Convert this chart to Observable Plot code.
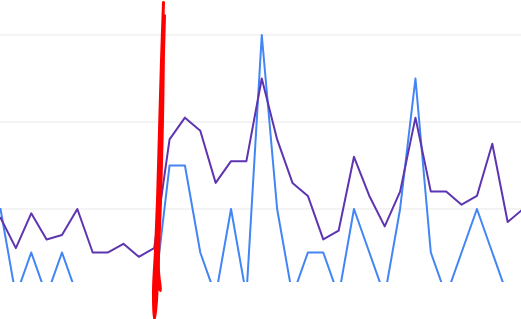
<!DOCTYPE html>
<html>
<head>
<meta charset="utf-8">
<script src="https://cdn.jsdelivr.net/npm/d3@7"></script>
<script src="https://cdn.jsdelivr.net/npm/@observablehq/plot@0.6"></script>
<style>
  html, body { margin: 0; padding: 0; background: #fff; }
  #chart svg { display: block; }
</style>
</head>
<body>
<div id="chart"></div>
<script>
// Data (x = period index)
const blueValues = [2,0,1,0,1,0,0,0,0,0,0,3,3,1,0,2,0,6,2,0,1,1,0,2,1,0,2,5,1,0,1,2,1,0,0];
const purpleValues = [1.8,1.1,1.9,1.3,1.4,2.0,1.0,1.0,1.2,0.9,1.1,3.6,4.1,3.8,2.6,3.1,3.1,5.0,3.6,2.6,2.3,1.3,1.5,3.2,2.3,1.6,2.4,4.1,2.4,2.4,2.1,2.3,3.5,1.7,2.0];
const gridValues = [2, 4, 6];
// Freehand red annotation stroke, in data units
const scribbleX = [10.606,10.476,10.345,10.215,10.085,9.955,10.020,
                   10.150,10.280,10.410,10.541,10.671,
                   10.606,10.476,10.345,10.215,10.345,10.410,
                   10.280,10.410,10.541,10.606,
                   10.541,10.280,10.085,10.150];
const scribbleY = [6.747,5.414,3.805,2.195,1.046,0.126,-0.540,
                   -0.103,1.276,2.885,4.724,6.448,
                   5.874,4.034,2.195,0.816,0.172,0.126,
                   0.586,2.195,4.034,5.644,
                   4.264,1.506,0.241,-0.103];

const blue = blueValues.map((v, i) => ({i, v}));
const purple = purpleValues.map((v, i) => ({i, v}));
const scribble = scribbleX.map((x, k) => ({x, y: scribbleY[k]}));

const chart = Plot.plot({
  width: 521,
  height: 319,
  marginTop: 0,
  marginLeft: 0,
  marginRight: 0,
  marginBottom: 37,
  x: {domain: [0, 33.9], axis: null},
  y: {domain: [0.31, 6.793], axis: null},
  marks: [
    Plot.ruleY(gridValues, {stroke: "#e8e8e8", strokeWidth: 1, strokeOpacity: 1}),
    Plot.line(blue, {x: "i", y: "v", stroke: "#4285f4", strokeWidth: 2, clip: true}),
    Plot.line(purple, {x: "i", y: "v", stroke: "#5e35b1", strokeWidth: 2, clip: true}),
    Plot.line(scribble, {x: "x", y: "y", stroke: "#ff0000", strokeWidth: 3, strokeLinejoin: "round", strokeLinecap: "round", curve: "catmull-rom"})
  ]
});
document.getElementById("chart").appendChild(chart);
</script>
</body>
</html>
